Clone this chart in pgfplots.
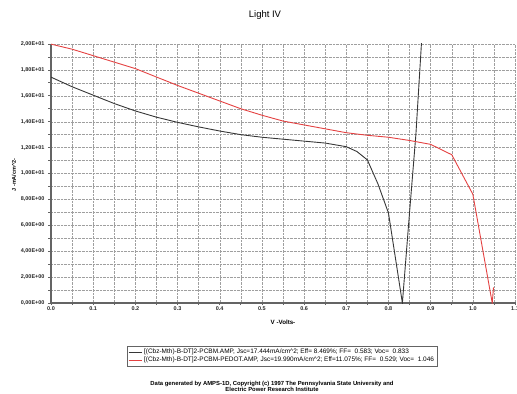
\documentclass[border=0pt]{standalone}
\usepackage{fontspec}
\setmainfont{Liberation Sans}
\usepackage{pgfplots}
\pgfplotsset{compat=1.18}
\definecolor{redline}{RGB}{228,65,65}
\definecolor{blackline}{RGB}{55,55,55}
\definecolor{axgray}{RGB}{100,100,100}
\begin{document}
\begin{tikzpicture}[x=1bp,y=1bp]
\begin{axis}[
  at={(51bp,90bp)}, anchor=south west,
  width=464bp, height=259bp, scale only axis,
  xmin=0, xmax=1.1, ymin=0, ymax=20,
  axis x line*=bottom, axis y line*=left,
  axis line style={color=axgray, line width=1.3pt, -},
  xtick={0,0.1,0.2,0.3,0.4,0.5,0.6,0.7,0.8,0.9,1.0,1.1},
  xticklabels={0.0,0.1,0.2,0.3,0.4,0.5,0.6,0.7,0.8,0.9,1.0,1.1},
  minor xtick={0.05,0.15,0.25,0.35,0.45,0.55,0.65,0.75,0.85,0.95,1.05},
  ytick={0,2,4,6,8,10,12,14,16,18,20},
  yticklabels={{0,00E+00},{2,00E+00},{4,00E+00},{6,00E+00},{8,00E+00},{1,00E+01},{1,20E+01},{1,40E+01},{1,60E+01},{1,80E+01},{2,00E+01}},
  minor ytick={1,3,5,7,9,11,13,15,17,19},
  grid=both,
  major grid style={densely dotted, color=gray!75},
  minor grid style={densely dotted, color=gray!75},
  tick style={color=axgray, line width=0.8pt},
  major tick length=3bp, minor tick length=3bp,
  xtick align=center, ytick align=outside,
  ticklabel style={font=\fontsize{5.5}{6}\selectfont\bfseries, color=black!85},
  xticklabel style={yshift=1bp},
  legend style={draw=axgray, line width=0.5pt, font=\fontsize{6.5}{7}\selectfont, at={(0.498,-0.205)}, anchor=center, inner sep=1pt, row sep=-2pt, /tikz/every even column/.append style={column sep=1pt}},
  legend cell align=left,
  legend image code/.code={\draw[#1] (0bp,0bp) -- (13bp,0bp);},
]
\addplot[blackline, line width=0.9pt] coordinates {
(0,17.44) (0.05,16.7) (0.1,16.05) (0.15,15.4) (0.2,14.83) (0.25,14.35) (0.3,13.95)
(0.35,13.6) (0.4,13.28) (0.45,13.0) (0.5,12.8) (0.55,12.65) (0.6,12.5) (0.65,12.35)
(0.7,12.07) (0.725,11.7) (0.75,11.05) (0.775,9.2) (0.8,6.95) (0.833,0)
(0.85,7.0) (0.865,13.0) (0.88,21.0)
};
\addlegendentry{[(Cbz-Mth)-B-DT]2-PCBM.AMP, Jsc=17.444mA/cm\textasciicircum 2; Eff= 8.469\%; FF=\ \ 0.583; Voc=\ \ 0.833}
\addplot[redline, line width=0.9pt] coordinates {
(0,19.99) (0.05,19.6) (0.1,19.1) (0.15,18.6) (0.2,18.1) (0.25,17.45) (0.3,16.8)
(0.35,16.2) (0.4,15.6) (0.45,15.0) (0.5,14.5) (0.55,14.05) (0.6,13.75) (0.65,13.45)
(0.7,13.15) (0.75,12.95) (0.8,12.8) (0.85,12.55) (0.9,12.25) (0.95,11.45)
(1.0,8.4) (1.046,0) (1.049,1.2)
};
\addlegendentry{[(Cbz-Mth)-B-DT]2-PCBM-PEDOT.AMP, Jsc=19.990mA/cm\textasciicircum 2; Eff=11.075\%; FF=\ \ 0.529; Voc=\ \ 1.046}
\end{axis}
\node[font=\fontsize{9.5}{11}\selectfont] at (265,378) {Light IV};
\node[font=\fontsize{6.2}{7}\selectfont\bfseries] at (283,71) {V -Volts-};
\node[font=\fontsize{5.5}{6}\selectfont\bfseries, rotate=90] at (14,218) {J -mA/cm\textasciicircum 2-};
\node[font=\fontsize{5.9}{6.6}\selectfont\bfseries, align=center] at (272,6.5) {Data generated by AMPS-1D, Copyright (c) 1997 The Pennsylvania State University and\\Electric Power Research Institute};
\pgfresetboundingbox
\path[use as bounding box] (0,0) rectangle (517,393);
\end{tikzpicture}
\end{document}
